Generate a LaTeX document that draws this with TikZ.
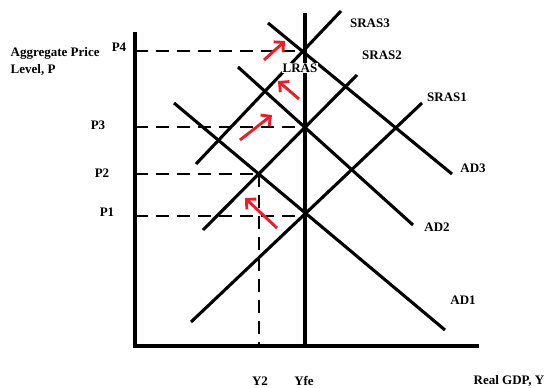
\documentclass[tikz,border=0pt]{standalone}
\usepackage{fontspec}
\setmainfont{Liberation Serif}
\usetikzlibrary{arrows.meta}
\definecolor{arrowred}{RGB}{232,30,40}

\begin{document}
\begin{tikzpicture}[
  x=1pt,y=-1pt,
  axis/.style  ={line width=3.4pt,black},
  curve/.style ={line width=3.1pt,black},
  guide/.style ={line width=2.8pt,black,dash pattern=on 13pt off 8pt},
  move/.style  ={line width=2.9pt,arrowred,
                 -{Straight Barb[length=7pt,width=14pt,line width=2.9pt]}},
  lab/.style   ={font=\bfseries\fontsize{13}{14}\selectfont,inner sep=0.5pt}]
\useasboundingbox (0,0) rectangle (549,388);
% --- Equilibrium points ---
\coordinate (E1) at (305,215);
\coordinate (E2) at (259,174);
\coordinate (E3) at (305,127);
\coordinate (E4) at (305,51);
% --- Curve end points ---
\coordinate (s1a) at (191,322);  \coordinate (s1b) at (422,103);
\coordinate (s2a) at (203,230);  \coordinate (s2b) at (357,75);
\coordinate (s3a) at (196,164);  \coordinate (s3b) at (341,11);
\coordinate (d1a) at (174,103);  \coordinate (d1b) at (445,330);
\coordinate (d2a) at (238,67);   \coordinate (d2b) at (413,225);
\coordinate (d3a) at (268,23);   \coordinate (d3b) at (452,174);
\coordinate (ltop) at (305,13);
% --- Axes ---
\coordinate (ytop) at (135,32);
\coordinate (xend) at (479,346);
\coordinate (yaxP1) at (135,216);
\coordinate (yaxP2) at (135,174);
\coordinate (yaxP3) at (135,127);
\coordinate (yaxP4) at (135,51);
\coordinate (xaxY2) at (259,346);
\coordinate (xaxYf) at (305,346);
\draw[axis] (ytop) |- (xend);
% --- Dashed guides ---
\draw[guide] (yaxP4) -- (E4);
\draw[guide] (yaxP3) -- (E3);
\draw[guide] (yaxP2) -- (E2);
\draw[guide] (yaxP1) -- (yaxP1 -| E1);
\draw[guide] (E2) -- (xaxY2);
% --- LRAS, SRAS and AD curves ---
\draw[curve] (ltop) -- (xaxYf);
\draw[curve] (s1a) -- (s1b);
\draw[curve] (s2a) -- (s2b);
\draw[curve] (s3a) -- (s3b);
\draw[curve] (d1a) -- (d1b);
\draw[curve] (d2a) -- (d2b);
\draw[curve] (d3a) -- (d3b);
% --- Curve labels ---
\node[lab,fill=white] (lras) at (300,68) {LRAS};
\node[lab] (sras1) at (447,97)  {SRAS1};
\node[lab] (sras2) at (382,55)  {SRAS2};
\node[lab] (sras3) at (370,23)  {SRAS3};
\node[lab] (ad1)   at (463,300) {AD1};
\node[lab] (ad2)   at (437,227) {AD2};
\node[lab] (ad3)   at (473,168) {AD3};
% --- Axis labels ---
\node[lab,anchor=west] (yname) at (10,53) {Aggregate Price};
\node[lab,anchor=west] (yname2) at (10,70) {Level, P};
\node[lab] (p4) at (119,47)  {P4};
\node[lab] (p3) at (98,125)  {P3};
\node[lab] (p2) at (102,173) {P2};
\node[lab] (p1) at (107,212) {P1};
\node[lab] (y2)  at (260,381) {Y2};
\node[lab] (yfe) at (304,381) {Yfe};
\node[lab] (xname) at (509,381) {Real GDP, Y};
% --- Red shift arrows ---
\coordinate (m1a) at (264,60);  \coordinate (m1b) at (285,41);
\coordinate (m2a) at (299,99);  \coordinate (m2b) at (278,81);
\coordinate (m3a) at (240,140); \coordinate (m3b) at (272,115);
\coordinate (m4a) at (277,228); \coordinate (m4b) at (245,198);
\draw[move] (m1a) -- (m1b);
\draw[move] (m2a) -- (m2b);
\draw[move] (m3a) -- (m3b);
\draw[move] (m4a) -- (m4b);
\end{tikzpicture}
\end{document}
